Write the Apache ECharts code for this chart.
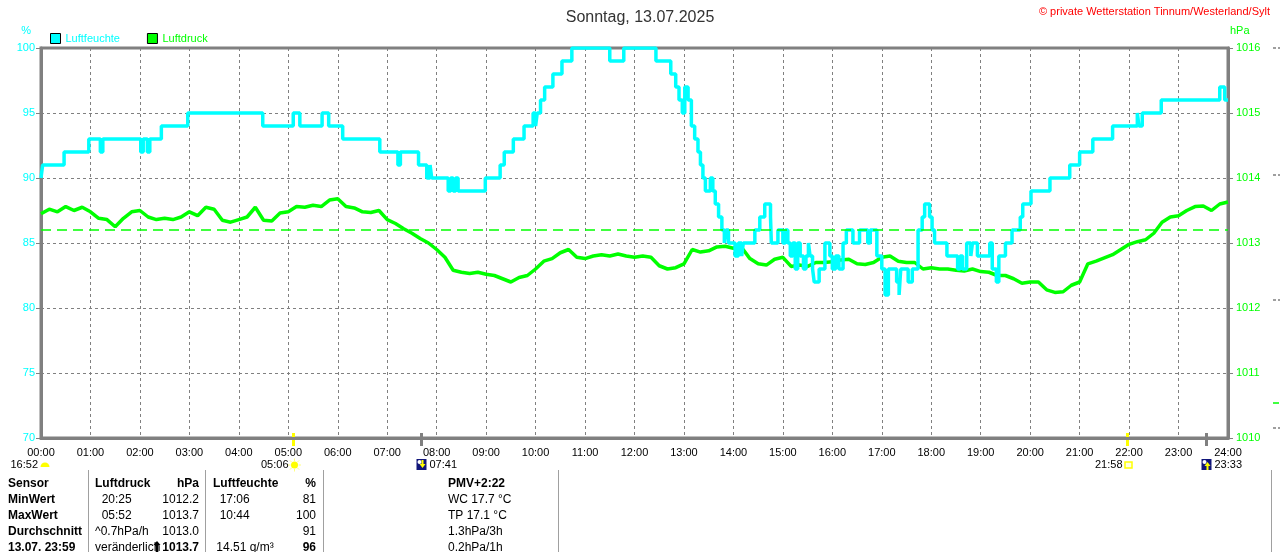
<!DOCTYPE html>
<html>
<head>
<meta charset="utf-8">
<title>Wetterstation Tinnum</title>
<script src="https://cdn.jsdelivr.net/npm/echarts@6/dist/echarts.min.js"></script>
<style>
html,body{margin:0;padding:0;background:#fff;}
#chart{width:1280px;height:552px;}
</style>
</head>
<body>
<div id="chart"></div>
<script>
// tick labels of the time axis (minutes 0..1440)
var hourLabels = ['00:00','01:00','02:00','03:00','04:00','05:00','06:00','07:00','08:00','09:00','10:00','11:00',
  '12:00','13:00','14:00','15:00','16:00','17:00','18:00','19:00','20:00','21:00','22:00','23:00','24:00'];

// Luftfeuchte: [minute, %] from this minute on (step line)
var humChanges = [
  [0,90],[2,91],[28,92],[58,93],[72,92],[75,93],[121,92],[124,93],[129,92],[132,93],[146,94],[178,95],
  [269,94],[306,95],[314,94],[341,95],[349,94],[366,93],[411,92],[433,91],[436,92],[458,91],[468,90],
  [472,91],[474,90],[494,89],[497,90],[500,89],[503,90],[506,89],[539,90],[557,91],[562,92],[573,93],
  [586,94],[597,95],[600,94],[602,95],[606,96],[611,97],[621,98],[632,99],[644,100],[690,99],[707,100],
  [746,99],[764,98],[770,97],[774,96],[778,95],[781,97],[785,96],[789,94],[793,93],[797,92],[800,91],
  [803,90],[806,89],[812,90],[815,89],[818,88],[822,87],[826,86],[829,85],[831,86],[834,85],[842,84],
  [846,85],[850,84],[852,85],[866,86],[872,87],[878,88],[885,87],[886,85],[894,86],[900,85],[903,86],
  [906,85],[909,84],[912,85],[915,83],[918,85],[921,84],[925,83],[928,84],[931,85],[933,84],[936,83],
  [938,82],[944,83],[951,85],[957,84],[960,83],[964,84],[968,83],[973,85],[977,86],[985,85],[993,86],
  [1003,85],[1006,86],[1014,84],[1020,83],[1024,81],[1028,83],[1038,82],[1041,81],[1043,83],[1052,82],
  [1057,83],[1064,86],[1069,87],[1072,88],[1078,87],[1081,86],[1084,85],[1099,84],[1112,83],[1115,84],
  [1118,83],[1123,85],[1128,84],[1130,85],[1136,84],[1151,85],[1154,83],[1159,82],[1162,84],[1170,85],
  [1178,86],[1188,87],[1191,88],[1201,89],[1224,90],[1248,91],[1260,92],[1276,93],[1300,94],[1330,95],
  [1332,94],[1336,95],[1359,96],[1430,97],[1436,96],[1440,96]
];

// Luftdruck in hPa, every 10 minutes, one row per hour
var pressureStep = 10;
var pressureValues = [
  1013.45,1013.52,1013.48,1013.56,1013.50,1013.55,
  1013.48,1013.38,1013.36,1013.25,1013.38,1013.48,
  1013.50,1013.40,1013.36,1013.38,1013.36,1013.40,
  1013.48,1013.42,1013.55,1013.52,1013.35,1013.32,
  1013.36,1013.40,1013.55,1013.35,1013.34,1013.46,
  1013.48,1013.56,1013.55,1013.58,1013.56,1013.66,
  1013.68,1013.56,1013.54,1013.48,1013.47,1013.50,
  1013.36,1013.30,1013.22,1013.15,1013.07,1013.00,
  1012.90,1012.78,1012.58,1012.55,1012.53,1012.55,
  1012.52,1012.50,1012.45,1012.40,1012.47,1012.50,
  1012.60,1012.72,1012.76,1012.85,1012.90,1012.78,
  1012.76,1012.80,1012.82,1012.80,1012.83,1012.80,
  1012.78,1012.80,1012.78,1012.65,1012.60,1012.62,
  1012.68,1012.90,1012.86,1012.88,1012.94,1012.95,
  1012.92,1012.93,1012.76,1012.68,1012.66,1012.75,
  1012.78,1012.64,1012.66,1012.64,1012.70,1012.70,
  1012.71,1012.74,1012.75,1012.68,1012.67,1012.70,
  1012.78,1012.80,1012.72,1012.70,1012.70,1012.60,
  1012.62,1012.60,1012.60,1012.58,1012.57,1012.60,
  1012.56,1012.55,1012.50,1012.50,1012.45,1012.38,
  1012.40,1012.40,1012.28,1012.24,1012.25,1012.35,
  1012.40,1012.68,1012.72,1012.77,1012.82,1012.90,
  1012.98,1013.02,1013.05,1013.15,1013.32,1013.40,
  1013.42,1013.50,1013.56,1013.57,1013.50,1013.60,
  1013.63
];
var pressureRef = 1013.2;

// sun / moon events under the time axis (minutes)
var astroTimes  = [306, 461, 1318, 1413];
var astroLabels = ['05:06', '07:41', '21:58', '23:33'];
var astroKinds  = ['sunrise', 'moonset', 'sunset', 'moonrise'];
var startLabel  = '16:52';

// table under the chart
var tableRows = [
  ['Sensor', 'Luftdruck', 'hPa', 'Luftfeuchte', '%', 'PMV+2:22'],
  ['MinWert', '  20:25', '1012.2', '  17:06', '81', 'WC 17.7 °C'],
  ['MaxWert', '  05:52', '1013.7', '  10:44', '100', 'TP 17.1 °C'],
  ['Durchschnitt', '^0.7hPa/h', '1013.0', '', '91', '1.3hPa/3h'],
  ['13.07. 23:59', 'veränderlich', '1013.7', ' 14.51 g/m³', '96', '0.2hPa/1h']
];

var FONT = '"Liberation Sans", Arial, sans-serif';
var CYAN = '#00ffff', GREEN = '#00ff00', GREY = '#808080';

var chart = echarts.init(document.getElementById('chart'));

var pressureData = pressureValues.map(function (v, i) { return [i * pressureStep, v]; });

var option = {
  animation: false,
  textStyle: { fontFamily: FONT },
  title: {
    text: 'Sonntag, 13.07.2025',
    left: 'center',
    top: 5,
    textStyle: { fontSize: 16, fontWeight: 'normal', color: '#333', fontFamily: FONT }
  },
  legend: {
    left: 50, top: 33, padding: 0,
    icon: 'rect', itemWidth: 10, itemHeight: 10, itemGap: 27,
    textStyle: { fontSize: 11, fontFamily: FONT },
    itemStyle: { borderColor: '#000', borderWidth: 1 },
    data: [
      { name: 'Luftfeuchte', textStyle: { color: CYAN } },
      { name: 'Luftdruck', textStyle: { color: GREEN } }
    ]
  },
  grid: { left: 41, right: 52, top: 48, bottom: 114, show: true, borderColor: GREY, borderWidth: 3 },
  xAxis: {
    type: 'value', min: 0, max: 1440, interval: 60,
    axisLine: { lineStyle: { color: GREY, width: 3 } },
    axisTick: { show: false },
    axisLabel: { color: '#000', fontSize: 11, margin: 9, formatter: function (v) { return hourLabels[v / 60]; } },
    splitLine: { lineStyle: { color: GREY, type: [3, 3], width: 1 } }
  },
  yAxis: [{
    type: 'value', min: 70, max: 100, interval: 5,
    name: '%', nameLocation: 'end', nameGap: 12,
    nameTextStyle: { color: CYAN, fontSize: 11, align: 'right', padding: [0, 10, 0, 0] },
    axisLine: { show: true, lineStyle: { color: GREY, width: 3 } },
    axisTick: { show: true, length: 5, lineStyle: { color: GREY } },
    axisLabel: { color: CYAN, fontSize: 11, margin: 6, formatter: function (v) { return String(v); } },
    splitLine: { lineStyle: { color: GREY, type: [3, 3], width: 1 } }
  }, {
    type: 'value', min: 1010, max: 1016, interval: 1, position: 'right',
    name: 'hPa', nameLocation: 'end', nameGap: 12,
    nameTextStyle: { color: GREEN, fontSize: 11, align: 'left', padding: [0, 0, 0, 2] },
    axisLine: { show: true, lineStyle: { color: GREY, width: 3 } },
    axisTick: { show: true, length: 5, lineStyle: { color: GREY } },
    axisLabel: { color: GREEN, fontSize: 11, margin: 8, formatter: function (v) { return String(v); } },
    splitLine: { show: false }
  }],
  series: [{
    name: 'Luftdruck', type: 'line', yAxisIndex: 1,
    data: pressureData, showSymbol: false, symbol: 'none',
    lineStyle: { color: GREEN, width: 3.5 }, itemStyle: { color: GREEN },
    markLine: {
      silent: true, symbol: 'none', label: { show: false },
      lineStyle: { color: GREEN, width: 1.5, type: [10, 6] },
      data: [{ yAxis: pressureRef }]
    }
  }, {
    name: 'Luftfeuchte', type: 'line', yAxisIndex: 0, step: 'end',
    data: humChanges, showSymbol: false, symbol: 'none',
    lineStyle: { color: CYAN, width: 3.5 }, itemStyle: { color: CYAN }
  }]
};
chart.setOption(option);

// --- annotations below the axis and the table ---
var gx = function (t) { return chart.convertToPixel({ xAxisIndex: 0 }, t); };
var axisY = chart.convertToPixel({ yAxisIndex: 0 }, 70);
var iconY = axisY + 27;
var g = [];

function txt(s, x, y, opt) {
  opt = opt || {};
  g.push({
    type: 'text', silent: true,
    style: {
      text: s, x: x, y: y, fill: opt.fill || '#000',
      font: (opt.bold ? 'bold ' : '') + (opt.size || 12) + 'px ' + FONT,
      textAlign: opt.align || 'left', textVerticalAlign: 'middle'
    }
  });
}

function icon(kind, cx, cy) {
  if (kind === 'sunrise') {
    for (var a = 0; a < 8; a++) {
      var ang = a * Math.PI / 4;
      g.push({ type: 'line', silent: true,
        shape: { x1: cx + Math.cos(ang) * 4, y1: cy + Math.sin(ang) * 4, x2: cx + Math.cos(ang) * 6.5, y2: cy + Math.sin(ang) * 6.5 },
        style: { stroke: '#ffff80', lineWidth: 1 } });
    }
    g.push({ type: 'circle', silent: true, shape: { cx: cx, cy: cy, r: 3.5 }, style: { fill: '#ffff00' } });
  } else if (kind === 'sunset') {
    g.push({ type: 'rect', silent: true, shape: { x: cx - 3.5, y: cy - 3, width: 7, height: 6 },
      style: { fill: '#ffffe0', stroke: '#ffff00', lineWidth: 1.5 } });
  } else if (kind === 'halfsun') {
    g.push({ type: 'sector', silent: true,
      shape: { cx: cx, cy: cy + 2, r: 4.5, startAngle: Math.PI, endAngle: 2 * Math.PI, clockwise: true },
      style: { fill: '#ffff00' } });
  } else {
    g.push({ type: 'rect', silent: true, shape: { x: cx - 5, y: cy - 6, width: 10, height: 11 }, style: { fill: '#10157a' } });
    g.push({ type: 'circle', silent: true, shape: { cx: cx - 2, cy: cy - 3, r: 2 }, style: { fill: '#ffffff' } });
    var up = kind === 'moonrise';
    var pts = up
      ? [[cx + 1, cy - 3], [cx + 4, cy + 1], [cx + 2, cy + 1], [cx + 2, cy + 5], [cx, cy + 5], [cx, cy + 1], [cx - 2, cy + 1]]
      : [[cx + 1, cy + 3], [cx + 4, cy - 1], [cx + 2, cy - 1], [cx + 2, cy - 5], [cx, cy - 5], [cx, cy - 1], [cx - 2, cy - 1]];
    g.push({ type: 'polygon', silent: true, shape: { points: pts }, style: { fill: '#ffff00' } });
  }
}

astroTimes.forEach(function (t, i) {
  var x = Math.round(gx(t)) + 0.5;
  var kind = astroKinds[i];
  var sun = kind === 'sunrise' || kind === 'sunset';
  g.push({ type: 'line', silent: true, shape: { x1: x, y1: axisY - 5, x2: x, y2: axisY + 8 },
    style: { stroke: sun ? '#ffff00' : GREY, lineWidth: 3 } });
  if (sun) {
    txt(astroLabels[i], x - 5, iconY, { align: 'right', size: 11 });
    icon(kind, x + 1, iconY);
  } else {
    icon(kind, x, iconY);
    txt(astroLabels[i], x + 8, iconY, { align: 'left', size: 11 });
  }
});
txt(startLabel, gx(0) - 3, iconY, { align: 'right', size: 11 });
icon('halfsun', gx(0) + 4, iconY);

// table
var rowY = [484, 500, 516, 532, 548];
var colX = [8, 95, 199, 213, 316, 448];
var colAlign = ['left', 'left', 'right', 'left', 'right', 'left'];
tableRows.forEach(function (row, r) {
  row.forEach(function (cell, c) {
    var bold = r === 0 || c === 0 || (r === 4 && (c === 2 || c === 4));
    txt(cell, colX[c], rowY[r], { align: colAlign[c], bold: bold });
  });
});
// trend arrow next to "veränderlich"
g.push({ type: 'polygon', silent: true,
  shape: { points: [[157, 541], [160.5, 545], [158.3, 545], [158.3, 552], [155.7, 552], [155.7, 545], [153.5, 545]] },
  style: { fill: '#000' } });

[88.5, 205.5, 323.5, 558.5].forEach(function (x) {
  g.push({ type: 'line', silent: true, shape: { x1: x, y1: 470, x2: x, y2: 552 }, style: { stroke: '#a0a0a0', lineWidth: 1 } });
});

// copyright
txt('© private Wetterstation Tinnum/Westerland/Sylt', 1270, 12, { align: 'right', fill: '#ff0000', size: 11 });

// edge of the neighbouring chart at the far right
g.push({ type: 'line', silent: true, shape: { x1: 1271.5, y1: 470, x2: 1271.5, y2: 552 }, style: { stroke: '#a0a0a0', lineWidth: 1 } });
[48, 175, 300, 428].forEach(function (y) {
  g.push({ type: 'line', silent: true, shape: { x1: 1273, y1: y, x2: 1280, y2: y }, style: { stroke: GREY, lineWidth: 1.5, lineDash: [3, 2] } });
});
g.push({ type: 'line', silent: true, shape: { x1: 1273, y1: 403, x2: 1279, y2: 403 }, style: { stroke: GREEN, lineWidth: 1.5 } });

chart.setOption({ graphic: g });
</script>
</body>
</html>
